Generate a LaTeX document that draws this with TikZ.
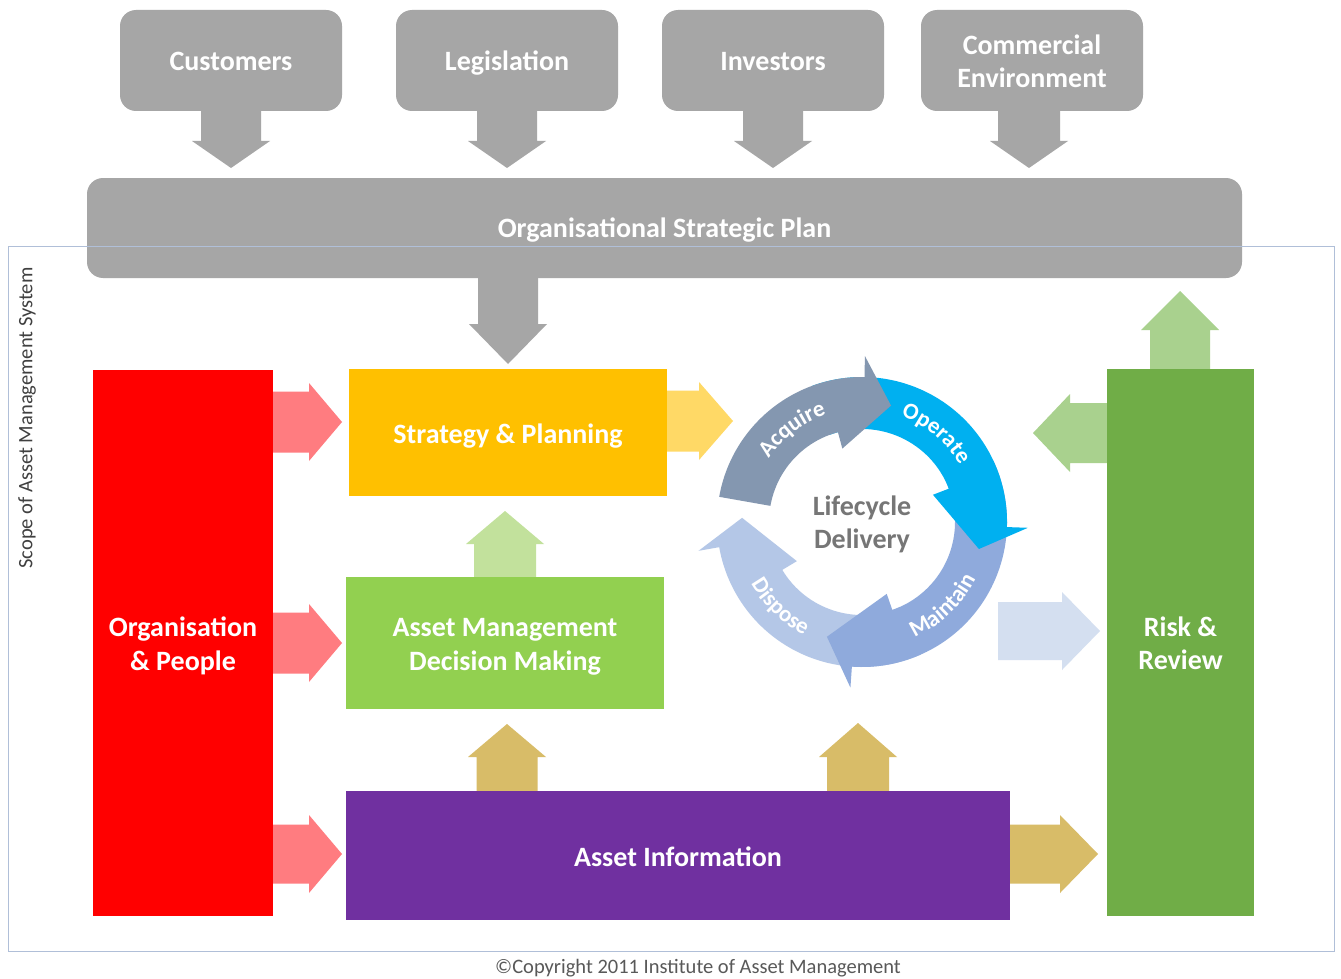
\documentclass[tikz,border=0pt]{standalone}
\usepackage{fontspec}
\setmainfont{Carlito}
\usetikzlibrary{decorations.text}
\definecolor{cgray}{HTML}{A6A6A6}
\definecolor{cred}{HTML}{FF0000}
\definecolor{cpink}{HTML}{FF7C80}
\definecolor{cyel}{HTML}{FFC000}
\definecolor{cyell}{HTML}{FFD966}
\definecolor{cdm}{HTML}{92D050}
\definecolor{cdml}{HTML}{C2E19C}
\definecolor{cpur}{HTML}{7030A0}
\definecolor{cgold}{HTML}{D8BC68}
\definecolor{crisk}{HTML}{70AD47}
\definecolor{criskl}{HTML}{A9D18E}
\definecolor{cblue}{HTML}{D4DFF0}
\definecolor{cacq}{HTML}{8497B0}
\definecolor{cope}{HTML}{00B0F0}
\definecolor{cmai}{HTML}{8FAADC}
\definecolor{cdis}{HTML}{B4C7E7}
\definecolor{cscope}{HTML}{B0BFD8}
\definecolor{clife}{HTML}{767676}
\definecolor{ccopy}{HTML}{595959}
\definecolor{cvert}{HTML}{404040}
\newcommand\lblfont{\fontsize{28}{33.5}\selectfont\bfseries}
\newcommand\arcfont{\fontsize{23}{23}\selectfont\bfseries}
% horizontal block arrow: colour, x start, x head base, x tip, y centre, shaft half height
\newcommand\hblock[6]{\fill[#1] (#2,#5-#6) -- (#3,#5-#6) -- (#3,#5-39) -- (#4,#5) -- (#3,#5+39) -- (#3,#5+#6) -- (#2,#5+#6) -- cycle;}
% vertical block arrow: colour, y start, y head base, y tip, x centre, shaft half width
\newcommand\vblock[6]{\fill[#1] (#5-#6,#2) -- (#5-#6,#3) -- (#5-39,#3) -- (#5,#4) -- (#5+39,#3) -- (#5+#6,#3) -- (#5+#6,#2) -- cycle;}
% lifecycle arrow: colour, tail angle, outer head-base angle, inner head-base angle, tip angle
\newcommand\lcarrow[5]{\fill[#1] (#2:145) arc[start angle=#2, end angle=#3, radius=145] -- (#3:166) -- (#5:120) -- (#4:76) -- (#4:93) arc[start angle=#4, end angle=#2, radius=93] -- cycle;}
\begin{document}
\begin{tikzpicture}[x=1pt,y=-1pt,
  block/.style={rectangle, inner sep=0pt},
  topbox/.style={block, fill=cgray, rounded corners=16pt, minimum width=222pt, minimum height=101pt},
  lbl/.style={inner sep=0pt, text=white, font=\lblfont, align=center}]
\useasboundingbox (0,0) rectangle (1341,979);
\fill[white] (0,0) rectangle (1341,979);

% top influences
\vblock{cgray}{105}{141}{168}{231}{30}
\vblock{cgray}{105}{141}{168}{507}{30}
\vblock{cgray}{105}{141}{168}{773}{30}
\vblock{cgray}{105}{141}{168}{1029}{31}
\node[topbox] (cust) at (231,60.5) {};
\node[topbox] (legis) at (507,60.5) {};
\node[topbox] (inv) at (773,60.5) {};
\node[topbox] (comm) at (1032,60.5) {};
\node[lbl] (custt) at (231,61.5) {Customers};
\node[lbl] (legist) at (507,63.5) {Legislation};
\node[lbl] (invt) at (773,61.5) {Investors};
\node[lbl] (commt) at (1032,61.5) {Commercial\\Environment};

% strategic plan
\vblock{cgray}{270}{324}{364}{508}{30}
\node[block, fill=cgray, rounded corners=16pt, minimum width=1155pt, minimum height=100pt] (osp) at (664.5,228) {};
\node[lbl] (ospt) at (664.5,230) {Organisational Strategic Plan};

% scope of asset management system
\draw[cscope, line width=0.9pt] (8,246) rectangle (1334,951);
\node[rotate=90, inner sep=0pt, font=\fontsize{20.5}{20.5}\selectfont, text=cvert] (scope) at (27,418) {Scope of Asset Management System};

% arrows between blocks
\hblock{cpink}{270}{309}{342}{422}{30.5}
\hblock{cpink}{270}{309}{342}{643}{30.5}
\hblock{cpink}{270}{309}{342}{854}{29.5}
\hblock{cyell}{664}{699}{733}{421}{30.5}
\vblock{cdml}{580}{544}{511}{505}{31}
\vblock{cgold}{795}{757}{724}{507}{30.5}
\vblock{cgold}{795}{757}{723}{858}{31}
\hblock{cgold}{1005}{1060}{1098}{854}{29.5}
\hblock{cblue}{998}{1062}{1100}{631}{29}
\hblock{criskl}{1110}{1070}{1033}{433}{30}
\vblock{criskl}{372}{330}{291}{1180}{30}

% main blocks
\node[block, fill=cred, minimum width=180pt, minimum height=546pt] (org) at (183,643) {};
\node[block, fill=cyel, minimum width=318pt, minimum height=127pt] (sp) at (508,432.5) {};
\node[block, fill=cdm, minimum width=318pt, minimum height=132pt] (amdm) at (505,643) {};
\node[block, fill=cpur, minimum width=664pt, minimum height=129pt] (ai) at (678,855.5) {};
\node[block, fill=crisk, minimum width=147pt, minimum height=547pt] (rr) at (1180.5,642.5) {};
\node[lbl] (orgt) at (183,646) {Organisation\\\& People};
\node[lbl] (spt) at (508,436.5) {Strategy \& Planning};
\node[lbl] (amdmt) at (505,647) {Asset Management\\Decision Making};
\node[lbl] (ait) at (678,856.5) {Asset Information};
\node[lbl] (rrt) at (1180.5,643.5) {Risk \&\\Review};

% lifecycle delivery
\begin{scope}[shift={(862,522)}, x=1pt, y=1pt]
\lcarrow{cdis}{-66}{-170}{-149}{-182}
\lcarrow{cmai}{25}{-94}{-71}{-107}
\lcarrow{cope}{110}{-2}{21}{-13}
\lcarrow{cacq}{170}{89}{105}{76}
\path[decorate, decoration={text along path, text={|\arcfont|Acquire}, text align=center, text color=white}] (154:113) arc[start angle=154, end angle=100, radius=113];
\path[decorate, decoration={text along path, text={|\arcfont|Operate}, text align=center, text color=white}] (78:113) arc[start angle=78, end angle=22, radius=113];
\path[decorate, decoration={text along path, text={|\arcfont|Maintain}, text align=center, text color=white}] (-78:127) arc[start angle=-78, end angle=-14, radius=127];
\path[decorate, decoration={text along path, text={|\arcfont|Dispose}, text align=center, text color=white}] (-164:127) arc[start angle=-164, end angle=-104, radius=127];
\node[align=center, inner sep=0pt, font=\lblfont, text=clife] (lcd) at (0,-2.5) {Lifecycle\\Delivery};
\end{scope}

% copyright
\node[inner sep=0pt, font=\fontsize{20.5}{20.5}\selectfont, text=ccopy] (copy) at (698,968) {©Copyright 2011 Institute of Asset Management};
\end{tikzpicture}
\end{document}
